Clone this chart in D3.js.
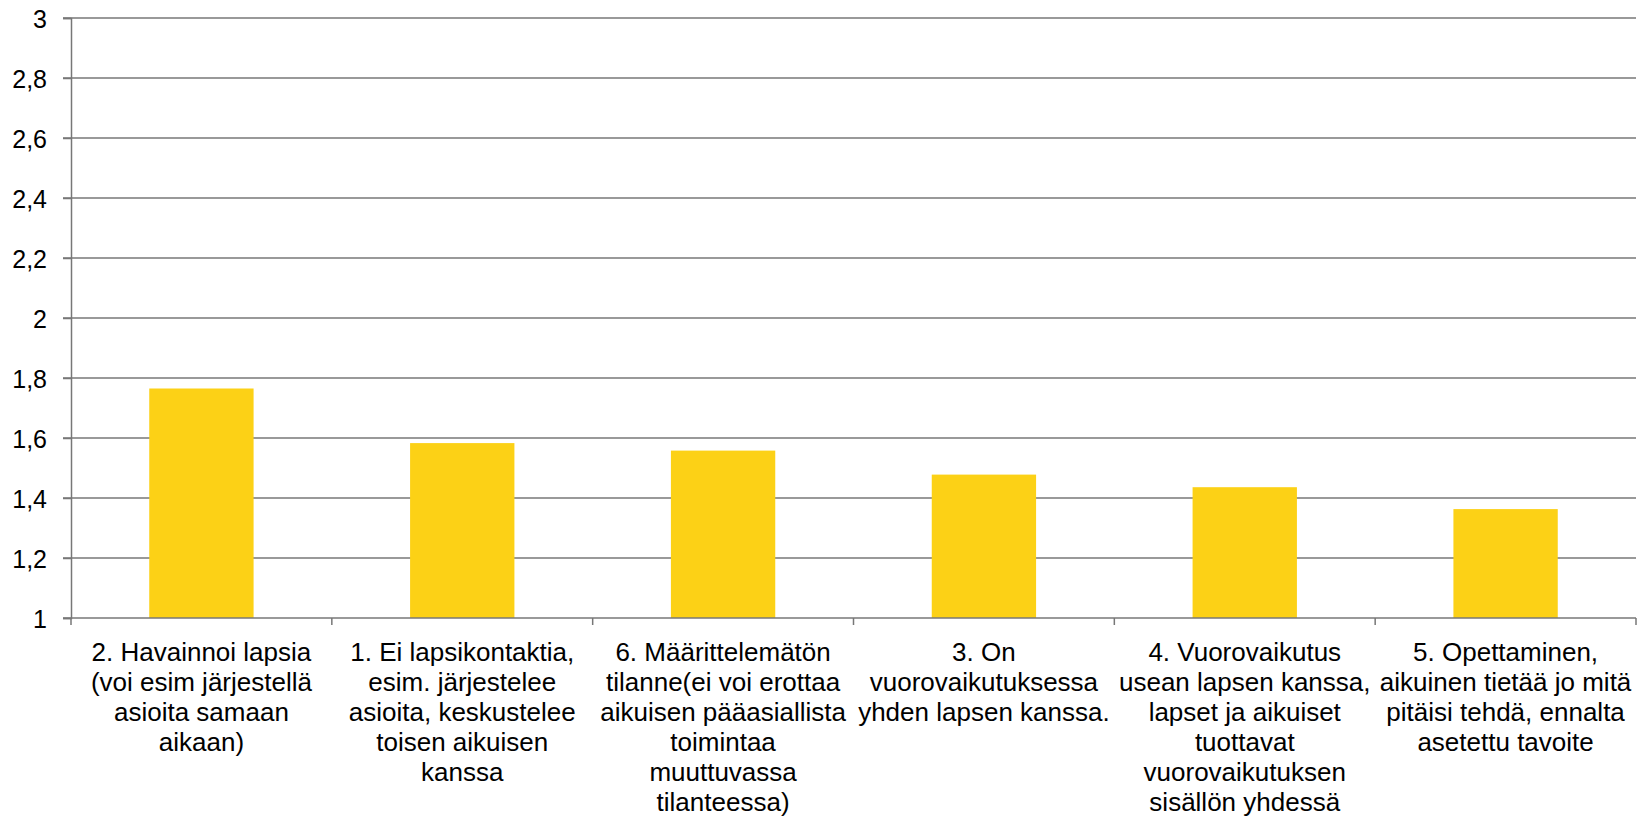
<!DOCTYPE html>
<html>
<head>
<meta charset="utf-8">
<script src="https://cdn.jsdelivr.net/npm/d3@7"></script>
<style>
  body { margin: 0; background: #fff; }
  text { font-family: "Liberation Sans", Arial, sans-serif; fill: #000; }
</style>
</head>
<body>
<svg id="chart" width="1650" height="818"></svg>
<script>
// categories (already wrapped into lines as in the original)
const categories = [
  ["2. Havainnoi lapsia", "(voi esim järjestellä", "asioita samaan", "aikaan)"],
  ["1. Ei lapsikontaktia,", "esim. järjestelee", "asioita, keskustelee", "toisen aikuisen", "kanssa"],
  ["6. Määrittelemätön", "tilanne(ei voi erottaa", "aikuisen pääasiallista", "toimintaa", "muuttuvassa", "tilanteessa)"],
  ["3. On", "vuorovaikutuksessa", "yhden lapsen kanssa."],
  ["4. Vuorovaikutus", "usean lapsen kanssa,", "lapset ja aikuiset", "tuottavat", "vuorovaikutuksen", "sisällön yhdessä"],
  ["5. Opettaminen,", "aikuinen tietää jo mitä", "pitäisi tehdä, ennalta", "asetettu tavoite"]
];
const values = [1.765, 1.583, 1.558, 1.478, 1.436, 1.363];
const yTicks = [1, 1.2, 1.4, 1.6, 1.8, 2, 2.2, 2.4, 2.6, 2.8, 3];

const svg = d3.select("#chart");
const margin = { top: 18, right: 14, bottom: 200, left: 71 };
const width = 1650, height = 818;

const x = d3.scaleBand()
  .domain(d3.range(categories.length))
  .range([margin.left, width - margin.right])
  .paddingInner(0.6)
  .paddingOuter(0.3);

const y = d3.scaleLinear()
  .domain([1, 3])
  .range([height - margin.bottom, margin.top]);

// gridlines
svg.append("g")
  .selectAll("line")
  .data(yTicks.slice(1))
  .enter()
  .append("line")
  .attr("x1", margin.left - 8)
  .attr("x2", width - margin.right)
  .attr("y1", d => y(d))
  .attr("y2", d => y(d))
  .attr("stroke", "#777")
  .attr("stroke-width", 1.5);

// bars
svg.append("g")
  .selectAll("rect")
  .data(values)
  .enter()
  .append("rect")
  .attr("x", (d, i) => x(i))
  .attr("width", x.bandwidth())
  .attr("y", d => y(d))
  .attr("height", d => y(1) - y(d))
  .attr("fill", "#FCD116");

// y axis
const yAxis = svg.append("g")
  .attr("transform", `translate(${margin.left},0)`)
  .call(d3.axisLeft(y).tickValues(yTicks).tickSize(8).tickPadding(16)
    .tickFormat(d => d3.format("~g")(d).replace(".", ",")));
yAxis.select(".domain").attr("stroke", "#777").attr("stroke-width", 1.5);
yAxis.selectAll(".tick line").attr("stroke", "#777").attr("stroke-width", 1.5);
yAxis.selectAll(".tick text")
  .attr("font-size", 25)
  .attr("dy", "0.36em");

// x axis line + boundary ticks
const bounds = d3.range(categories.length + 1).map(i => margin.left + i * (width - margin.left - margin.right) / categories.length);
svg.append("line")
  .attr("x1", margin.left - 8)
  .attr("x2", width - margin.right)
  .attr("y1", y(1))
  .attr("y2", y(1))
  .attr("stroke", "#777")
  .attr("stroke-width", 1.5);
svg.append("g")
  .selectAll("line")
  .data(bounds)
  .enter()
  .append("line")
  .attr("x1", d => d)
  .attr("x2", d => d)
  .attr("y1", y(1))
  .attr("y2", y(1) + 7)
  .attr("stroke", "#777")
  .attr("stroke-width", 1.5);

// category labels
const labels = svg.append("g")
  .selectAll("text")
  .data(categories)
  .enter()
  .append("text")
  .attr("text-anchor", "middle")
  .attr("font-size", 26)
  .attr("x", (d, i) => x(i) + x.bandwidth() / 2)
  .attr("y", y(1) + 43);

labels.selectAll("tspan")
  .data(d => d)
  .enter()
  .append("tspan")
  .attr("x", function () { return d3.select(this.parentNode).attr("x"); })
  .attr("dy", (d, i) => i === 0 ? 0 : 30)
  .text(d => d);
</script>
</body>
</html>
